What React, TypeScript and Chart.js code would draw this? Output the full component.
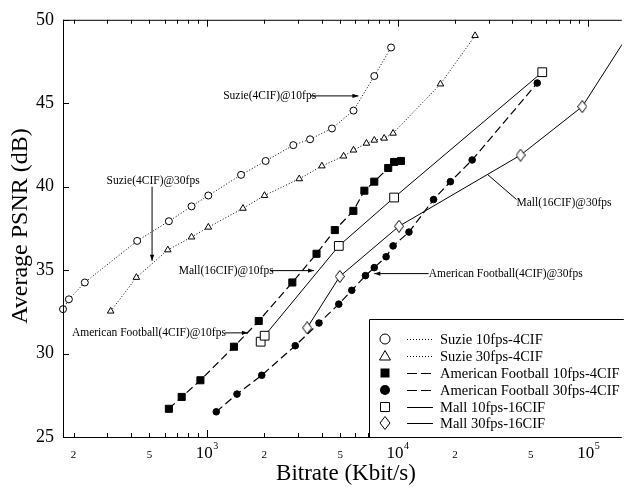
import React, { useEffect, useRef } from "react";
import { Chart, registerables } from "chart.js";
Chart.register(...registerables);

const SERIF = '"Liberation Serif", "DejaVu Serif", "Times New Roman", serif';

// ---- axis ticks ----
const xTickValues = [200, 500, 1000, 2000, 5000, 10000, 20000, 50000, 100000];
const xTickBases = ["2", "5", "10", "2", "5", "10", "2", "5", "10"];
const xTickExps = ["", "", "3", "", "", "4", "", "", "5"];
const X_MIN = 176;
const X_MAX = 150000;
const Y_MIN = 25;
const Y_MAX = 50;

// ---- data (bitrate kbit/s, PSNR dB) ----
const suzie10Rate = [176, 189, 229, 431, 632, 831, 1018, 1511, 2033, 2840, 3476, 4529, 5875, 7551, 9250];
const suzie10Psnr = [32.66, 33.25, 34.26, 36.75, 37.93, 38.82, 39.47, 40.71, 41.54, 42.49, 42.84, 43.49, 44.56, 46.63, 48.34];

const suzie30Rate = [313, 427, 624, 831, 1018, 1546, 2005, 3051, 4011, 5213, 5875, 6870, 7551, 8511, 9474, 16790, 25500];
const suzie30Psnr = [32.54, 34.56, 36.21, 36.98, 37.57, 38.7, 39.47, 40.47, 41.24, 41.83, 42.19, 42.6, 42.78, 42.9, 43.2, 46.15, 49.05];

const af10Rate = [632, 738, 925, 1387, 1871, 2807, 3759, 4688, 5865, 6699, 7551, 8933, 9594, 10420];
const af10Psnr = [26.69, 27.4, 28.4, 30.41, 31.95, 34.26, 35.98, 37.4, 38.55, 39.76, 40.3, 41.12, 41.48, 41.54];

const af30Rate = [1120, 1439, 1940, 2908, 3873, 4920, 5754, 6788, 7551, 8710, 9474, 11480, 15450, 18930, 24620, 54030];
const af30Psnr = [26.51, 27.57, 28.7, 30.47, 31.83, 32.96, 33.79, 34.67, 35.15, 35.8, 36.45, 37.28, 39.23, 40.3, 41.6, 46.21];

const mall10Rate = [1915, 2010, 4920, 9594, 57410];
const mall10Psnr = [30.71, 31.07, 36.45, 39.35, 46.86];

const mall30Rate = [3357, 4977, 10180, 44160, 93100, 160000];
const mall30Psnr = [31.54, 34.62, 37.63, 41.89, 44.8, 49.0];

const legendLabels = [
  "Suzie 10fps-4CIF",
  "Suzie 30fps-4CIF",
  "American Football 10fps-4CIF",
  "American Football 30fps-4CIF",
  "Mall 10fps-16CIF",
  "Mall 30fps-16CIF",
];

// annotation: text anchored at (tx, ty) left-aligned; leader line from (x1,y1) to (x2,y2)
const annTexts = [
  "Suzie(4CIF)@10fps",
  "Suzie(4CIF)@30fps",
  "Mall(16CIF)@10fps",
  "American Football(4CIF)@10fps",
  "American Football(4CIF)@30fps",
  "Mall(16CIF)@30fps",
];
const annTextX = [1217, 298, 712, 196, 14560, 42070];
const annTextY = [45.44, 40.36, 34.97, 31.24, 34.79, 39.05];
const annLineX1 = [3480, 516, 2159, 1247, 14560, 42070];
const annLineY1 = [45.44, 40.0, 34.97, 31.24, 34.79, 39.23];
const annLineX2 = [6237, 516, 3648, 1641, 7551, 29790];
const annLineY2 = [45.44, 35.56, 34.97, 31.24, 34.79, 40.71];
const annArrow = [true, true, true, true, true, false];

const pts = (xs: number[], ys: number[]) => xs.map((x, i) => ({ x, y: ys[i] }));

function makeDiamond(w: number, h: number, fill: string) {
  const c = document.createElement("canvas");
  c.width = w + 2;
  c.height = h + 2;
  const g = c.getContext("2d")!;
  g.fillStyle = fill;
  g.strokeStyle = "#000";
  g.lineWidth = 1;
  g.beginPath();
  g.moveTo(c.width / 2, 0.5);
  g.lineTo(c.width - 0.5, c.height / 2);
  g.lineTo(c.width / 2, c.height - 0.5);
  g.lineTo(0.5, c.height / 2);
  g.closePath();
  g.fill();
  g.stroke();
  return c;
}

function drawMarker(ctx: CanvasRenderingContext2D, kind: number, x: number, y: number) {
  ctx.save();
  ctx.lineWidth = 1;
  ctx.strokeStyle = "#000";
  ctx.setLineDash([]);
  ctx.beginPath();
  if (kind === 0) {
    ctx.arc(x, y, 5, 0, Math.PI * 2);
    ctx.fillStyle = "#fff";
    ctx.fill();
    ctx.stroke();
  } else if (kind === 1) {
    ctx.moveTo(x, y - 5.5);
    ctx.lineTo(x + 5.5, y + 4);
    ctx.lineTo(x - 5.5, y + 4);
    ctx.closePath();
    ctx.fillStyle = "#fff";
    ctx.fill();
    ctx.stroke();
  } else if (kind === 2) {
    ctx.rect(x - 4.5, y - 4.5, 9, 9);
    ctx.fillStyle = "#000";
    ctx.fill();
  } else if (kind === 3) {
    ctx.arc(x, y, 5, 0, Math.PI * 2);
    ctx.fillStyle = "#000";
    ctx.fill();
  } else if (kind === 4) {
    ctx.rect(x - 4.5, y - 4.5, 9, 9);
    ctx.fillStyle = "#fff";
    ctx.fill();
    ctx.stroke();
  } else {
    ctx.moveTo(x, y - 6.5);
    ctx.lineTo(x + 5, y);
    ctx.lineTo(x, y + 6.5);
    ctx.lineTo(x - 5, y);
    ctx.closePath();
    ctx.fillStyle = "#fff";
    ctx.fill();
    ctx.stroke();
  }
  ctx.restore();
}

const decorPlugin = {
  id: "decor",
  afterDraw(chart: any) {
    const ctx: CanvasRenderingContext2D = chart.ctx;
    const { left, right, top, bottom } = chart.chartArea;
    const xs = chart.scales.x;
    const ys = chart.scales.y;
    ctx.save();
    ctx.strokeStyle = "#000";
    ctx.fillStyle = "#000";
    ctx.lineWidth = 1;
    ctx.setLineDash([]);

    // frame
    ctx.beginPath();
    ctx.moveTo(left + 0.5, top);
    ctx.lineTo(left + 0.5, bottom + 1);
    ctx.moveTo(left, top + 0.5);
    ctx.lineTo(right, top + 0.5);
    ctx.moveTo(left, bottom + 0.5);
    ctx.lineTo(right, bottom + 0.5);
    // x ticks (inward, top and bottom)
    for (let d = 100; d <= 1e6; d *= 10) {
      for (let m = 1; m <= 9; m++) {
        const v = d * m;
        if (v < xs.min || v > xs.max) continue;
        const px = Math.round(xs.getPixelForValue(v)) + 0.5;
        const len = m === 1 ? 7 : 4;
        ctx.moveTo(px, bottom);
        ctx.lineTo(px, bottom - len);
        ctx.moveTo(px, top);
        ctx.lineTo(px, top + len);
      }
    }
    // y ticks
    for (let v = Y_MIN; v <= Y_MAX; v += 5) {
      const py = Math.round(ys.getPixelForValue(v)) + 0.5;
      ctx.moveTo(left, py);
      ctx.lineTo(left + 6, py);
    }
    ctx.stroke();

    // x tick labels
    ctx.textBaseline = "alphabetic";
    xTickValues.forEach((v, i) => {
      const px = xs.getPixelForValue(v);
      const base = xTickBases[i];
      const exp = xTickExps[i];
      if (!exp) {
        ctx.font = `11px ${SERIF}`;
        ctx.textAlign = "center";
        ctx.fillText(base, px, 458);
      } else {
        ctx.font = `17px ${SERIF}`;
        const wb = ctx.measureText(base).width;
        ctx.font = `10px ${SERIF}`;
        const we = ctx.measureText(exp).width;
        const x0 = px - (wb + we) / 2;
        ctx.textAlign = "left";
        ctx.font = `17px ${SERIF}`;
        ctx.fillText(base, x0, 458);
        ctx.font = `10px ${SERIF}`;
        ctx.fillText(exp, x0 + wb + 0.5, 449);
      }
    });

    // axis titles
    ctx.textAlign = "center";
    ctx.textBaseline = "middle";
    ctx.font = `23px ${SERIF}`;
    ctx.fillText("Bitrate (Kbit/s)", 346, 474);
    ctx.save();
    ctx.translate(21, 226);
    ctx.rotate(-Math.PI / 2);
    ctx.font = `24px ${SERIF}`;
    ctx.fillText("Average PSNR (dB)", 0, 0);
    ctx.restore();

    // annotations
    ctx.font = `11.5px ${SERIF}`;
    ctx.textAlign = "left";
    ctx.textBaseline = "middle";
    annTexts.forEach((t, i) => {
      const tx = xs.getPixelForValue(annTextX[i]);
      const ty = ys.getPixelForValue(annTextY[i]);
      ctx.fillText(t, tx, ty);
      const w = ctx.measureText(t).width;
      let x1 = xs.getPixelForValue(annLineX1[i]);
      const y1 = ys.getPixelForValue(annLineY1[i]);
      const x2 = xs.getPixelForValue(annLineX2[i]);
      const y2 = ys.getPixelForValue(annLineY2[i]);
      if (Math.abs(x1 - tx) < 1 && Math.abs(y1 - ty) < 1 && x2 > x1) x1 = tx + w;
      ctx.beginPath();
      ctx.moveTo(x1, y1);
      ctx.lineTo(x2, y2);
      ctx.stroke();
      if (annArrow[i]) {
        const ang = Math.atan2(y2 - y1, x2 - x1);
        const L = 6, Wd = 2.2;
        ctx.beginPath();
        ctx.moveTo(x2, y2);
        ctx.lineTo(x2 - L * Math.cos(ang) + Wd * Math.sin(ang), y2 - L * Math.sin(ang) - Wd * Math.cos(ang));
        ctx.lineTo(x2 - L * Math.cos(ang) - Wd * Math.sin(ang), y2 - L * Math.sin(ang) + Wd * Math.cos(ang));
        ctx.closePath();
        ctx.fill();
      }
    });

    // legend box
    const bx = 369.5, by = 319.5;
    ctx.fillStyle = "#fff";
    ctx.fillRect(bx, by, right - bx + 2, bottom - by);
    ctx.beginPath();
    ctx.moveTo(bx, bottom + 0.5);
    ctx.lineTo(bx, by);
    ctx.lineTo(right + 2, by);
    ctx.stroke();
    const rowY = [339, 356, 373, 390, 407, 423];
    const dashes = [[1, 2], [1, 2], [10, 4], [10, 4], [], []];
    ctx.font = `14.5px ${SERIF}`;
    ctx.textAlign = "left";
    ctx.textBaseline = "middle";
    legendLabels.forEach((lab, i) => {
      const y = rowY[i];
      drawMarker(ctx, i, 385, y);
      ctx.save();
      ctx.setLineDash(dashes[i]);
      ctx.beginPath();
      ctx.moveTo(407, y + 0.5);
      ctx.lineTo(433, y + 0.5);
      ctx.stroke();
      ctx.restore();
      ctx.fillStyle = "#000";
      ctx.fillText(lab, 440, y + 1);
    });
    ctx.restore();
  },
};

export default function App() {
  const ref = useRef<HTMLCanvasElement | null>(null);
  useEffect(() => {
    if (!ref.current) return;
    const diamond = makeDiamond(8, 11, "#fff");
    const common = {
      showLine: true,
      borderColor: "#000",
      pointBorderColor: "#000",
      pointBorderWidth: 1,
      clip: false as any,
    };
    const chart = new Chart(ref.current, {
      type: "scatter",
      data: {
        datasets: [
          {
            ...common,
            label: legendLabels[0],
            data: pts(suzie10Rate, suzie10Psnr),
            borderWidth: 1,
            borderDash: [1, 2],
            pointStyle: "circle",
            pointRadius: 3.5,
            pointBackgroundColor: "#fff",
          },
          {
            ...common,
            label: legendLabels[1],
            data: pts(suzie30Rate, suzie30Psnr),
            borderWidth: 1,
            borderDash: [1, 2],
            pointStyle: "triangle",
            pointRadius: 3.8,
            pointBackgroundColor: "#fff",
          },
          {
            ...common,
            label: legendLabels[2],
            data: pts(af10Rate, af10Psnr),
            borderWidth: 1.2,
            borderDash: [8, 4],
            pointStyle: "rect",
            pointRadius: 5,
            pointBackgroundColor: "#000",
          },
          {
            ...common,
            label: legendLabels[3],
            data: pts(af30Rate, af30Psnr),
            borderWidth: 1.2,
            borderDash: [8, 4],
            pointStyle: "circle",
            pointRadius: 3.3,
            pointBackgroundColor: "#000",
          },
          {
            ...common,
            label: legendLabels[4],
            data: pts(mall10Rate, mall10Psnr),
            borderWidth: 1,
            pointStyle: "rect",
            pointRadius: 6.2,
            pointBackgroundColor: "#fff",
          },
          {
            ...common,
            label: legendLabels[5],
            data: pts(mall30Rate, mall30Psnr),
            borderWidth: 1,
            pointStyle: diamond as any,
            pointRadius: 5,
            pointBackgroundColor: "#fff",
            clip: { left: 6, top: 6, bottom: 6, right: 0 } as any,
          },
        ],
      },
      options: {
        responsive: false,
        devicePixelRatio: 1,
        animation: false,
        layout: { padding: { top: 15, left: 0, right: 0, bottom: 0 } },
        plugins: {
          legend: { display: false },
          tooltip: { enabled: false },
        },
        scales: {
          x: {
            type: "logarithmic",
            min: X_MIN,
            max: X_MAX,
            position: "bottom",
            grid: { display: false, drawTicks: false },
            border: { display: false },
            ticks: { display: false },
            afterBuildTicks: (s: any) => {
              s.ticks = xTickValues.map((v) => ({ value: v }));
            },
            afterFit: (s: any) => {
              s.height = 58;
            },
          },
          y: {
            type: "linear",
            min: Y_MIN,
            max: Y_MAX,
            grid: { display: false, drawTicks: false },
            border: { display: false },
            ticks: {
              stepSize: 5,
              color: "#000",
              padding: 9,
              font: { family: SERIF, size: 18 },
            },
            afterFit: (s: any) => {
              s.width = 63;
            },
          },
        },
      },
      plugins: [decorPlugin],
    });
    return () => chart.destroy();
  }, []);
  return (
    <canvas
      ref={ref}
      width={629}
      height={495}
      style={{ position: "absolute", left: 0, top: 0, width: 629, height: 495 }}
    />
  );
}
